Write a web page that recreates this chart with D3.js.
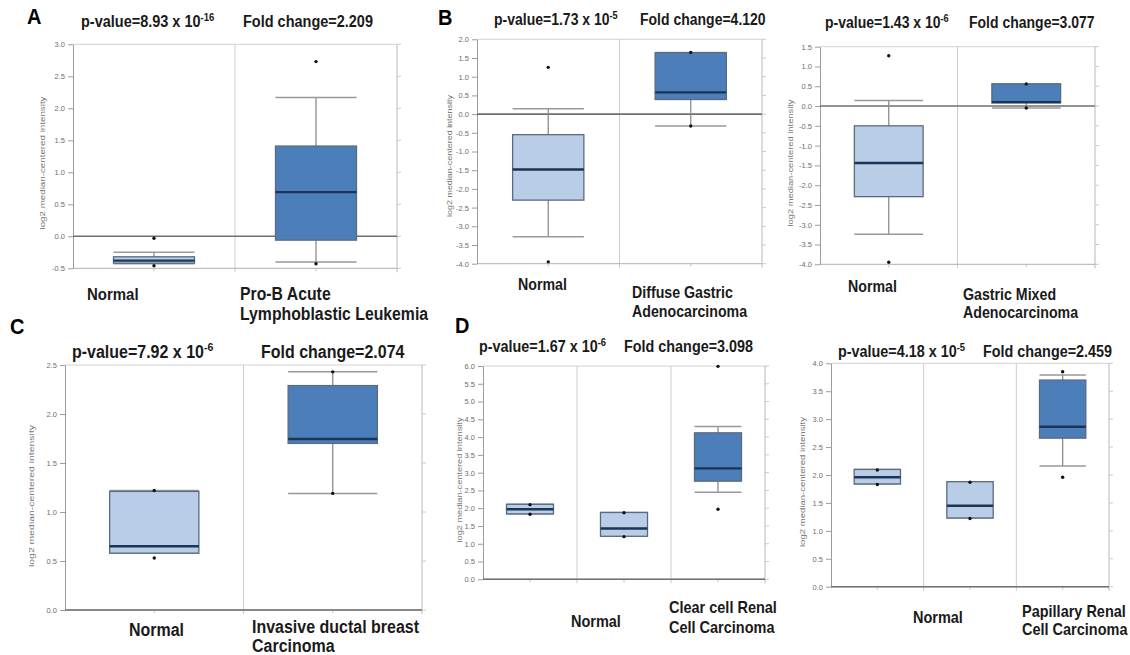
<!DOCTYPE html>
<html>
<head>
<meta charset="utf-8">
<script src="https://cdn.jsdelivr.net/npm/d3@7"></script>
<style>
  html, body { margin: 0; padding: 0; background: #fff; }
  svg { display: block; }
  text { font-family: "Liberation Sans", Arial, sans-serif; }
</style>
</head>
<body>
<svg id="fig" width="1130" height="655"></svg>
<script>
// Box statistics per group: [lower whisker, Q1, median, Q3, upper whisker]

// A: Pro-B acute lymphoblastic leukemia
const aGroups = ["Normal", "Pro-B Acute Lymphoblastic Leukemia"];
const aStats = [[-0.43, -0.42, -0.38, -0.32, -0.25], [-0.40, -0.06, 0.69, 1.41, 2.17]];
const aOutliers = [[-0.03, -0.46], [2.73, -0.43]];
const aTicks = [-0.5, 0.0, 0.5, 1.0, 1.5, 2.0, 2.5, 3.0];

// B (left): diffuse gastric adenocarcinoma
const b1Groups = ["Normal", "Diffuse Gastric Adenocarcinoma"];
const b1Stats = [[-3.28, -2.30, -1.48, -0.55, 0.14], [-0.32, 0.39, 0.58, 1.64, 1.65]];
const b1Outliers = [[1.25, -3.95], [1.65, -0.32]];
const b1Ticks = [-4.0, -3.5, -3.0, -2.5, -2.0, -1.5, -1.0, -0.5, 0.0, 0.5, 1.0, 1.5, 2.0];

// B (right): gastric mixed adenocarcinoma
const b2Groups = ["Normal", "Gastric Mixed Adenocarcinoma"];
const b2Stats = [[-3.24, -2.29, -1.44, -0.50, 0.14], [-0.05, 0.08, 0.10, 0.56, 0.56]];
const b2Outliers = [[1.27, -3.95], [0.56, -0.05]];
const b2Ticks = [-4.0, -3.5, -3.0, -2.5, -2.0, -1.5, -1.0, -0.5, 0.0, 0.5, 1.0, 1.5];

// C: invasive ductal breast carcinoma
const cGroups = ["Normal", "Invasive ductal breast Carcinoma"];
const cStats = [[0.58, 0.58, 0.65, 1.21, 1.22], [1.19, 1.70, 1.745, 2.29, 2.43]];
const cOutliers = [[1.22, 0.53], [2.43, 1.19]];
const cTicks = [0.0, 0.5, 1.0, 1.5, 2.0, 2.5];

// D (left): clear cell renal cell carcinoma
const d1Groups = ["Normal 1", "Normal 2", "Clear cell Renal Cell Carcinoma"];
const d1Stats = [[1.84, 1.84, 1.97, 2.11, 2.11], [1.21, 1.21, 1.43, 1.88, 1.88], [2.45, 2.76, 3.12, 4.12, 4.30]];
const d1Outliers = [[2.10, 1.83], [1.87, 1.20], [5.99, 1.97]];
const d1Ticks = [0.0, 0.5, 1.0, 1.5, 2.0, 2.5, 3.0, 3.5, 4.0, 4.5, 5.0, 5.5, 6.0];

// D (right): papillary renal cell carcinoma
const d2Groups = ["Normal 1", "Normal 2", "Papillary Renal Cell Carcinoma"];
const d2Stats = [[1.84, 1.84, 1.96, 2.10, 2.10], [1.23, 1.23, 1.45, 1.88, 1.88], [2.16, 2.66, 2.865, 3.70, 3.79]];
const d2Outliers = [[2.09, 1.83], [1.87, 1.22], [3.85, 1.96]];
const d2Ticks = [0.0, 0.5, 1.0, 1.5, 2.0, 2.5, 3.0, 3.5, 4.0];

// Significance annotations: [p-value mantissa, exponent, fold change]
const aSig = ["8.93", "-16", "2.209"];
const b1Sig = ["1.73", "-5", "4.120"];
const b2Sig = ["1.43", "-6", "3.077"];
const cSig = ["7.92", "-6", "2.074"];
const d1Sig = ["1.67", "-6", "3.098"];
const d2Sig = ["4.18", "-5", "2.459"];

// Category captions printed under each plot (lines)
const aCaptions = [["Normal"], ["Pro-B Acute", "Lymphoblastic Leukemia"]];
const b1Captions = [["Normal"], ["Diffuse Gastric", "Adenocarcinoma"]];
const b2Captions = [["Normal"], ["Gastric Mixed", "Adenocarcinoma"]];
const cCaptions = [["Normal"], ["Invasive ductal breast", "Carcinoma"]];
const d1Captions = [["Normal"], ["Clear cell Renal", "Cell Carcinoma"]];
const d2Captions = [["Normal"], ["Papillary Renal", "Cell Carcinoma"]];

const axisTitle = "log2 median-centered intensity";

// ---- layout ----
const panels = [
  { letter: "A", letterPos: [27, 24], groups: aGroups, stats: aStats, outliers: aOutliers, ticks: aTicks, sig: aSig, captions: aCaptions,
    left: 73, right: 397, top: 44.3, bottom: 268.3, yTitle: [45, 163, 133],
    sigPos: [81, 243, 27, 14.5], capPos: [[87, 300], [240, 300]], capFs: [15, 15.8], capLead: 20 },
  { letter: "B", letterPos: [438, 25], groups: b1Groups, stats: b1Stats, outliers: b1Outliers, ticks: b1Ticks, sig: b1Sig, captions: b1Captions,
    left: 477, right: 762, top: 39.3, bottom: 263.7, yTitle: [452, 156, 122],
    sigPos: [494, 640, 25, 14], capPos: [[518, 290], [632, 298]], capFs: [14.2, 14.2], capLead: 19 },
  { letter: null, groups: b2Groups, stats: b2Stats, outliers: b2Outliers, ticks: b2Ticks, sig: b2Sig, captions: b2Captions,
    left: 820, right: 1095, top: 46.7, bottom: 264.3, yTitle: [793, 163, 127],
    sigPos: [825, 969, 28, 14], capPos: [[848, 292], [963, 300]], capFs: [14.2, 14.2], capLead: 18 },
  { letter: "C", letterPos: [10, 334], groups: cGroups, stats: cStats, outliers: cOutliers, ticks: cTicks, sig: cSig, captions: cCaptions,
    left: 65, right: 422, top: 365, bottom: 610, yTitle: [34, 496, 142],
    sigPos: [72, 261, 358, 16], capPos: [[129, 636], [252, 633]], capFs: [16, 16], capLead: 19 },
  { letter: "D", letterPos: [455, 333], groups: d1Groups, stats: d1Stats, outliers: d1Outliers, ticks: d1Ticks, sig: d1Sig, captions: d1Captions,
    left: 483, right: 765, top: 366, bottom: 579.3, yTitle: [462, 480, 125],
    sigPos: [479, 624, 352, 14.4], capPos: [[571, 627], [669, 613]], capFs: [14.5, 14.5], capLead: 20 },
  { letter: null, groups: d2Groups, stats: d2Stats, outliers: d2Outliers, ticks: d2Ticks, sig: d2Sig, captions: d2Captions,
    left: 831, right: 1109, top: 363.3, bottom: 586.7, yTitle: [805, 482, 130],
    sigPos: [838, 983, 357, 14.4], capPos: [[913, 623], [1022, 617]], capFs: [14.5, 14.5], capLead: 18 }
];

const NORMAL_FILL = "#b9cde6";
const TUMOR_FILL = "#4c7fba";
const BOX_STROKE = "#586b82";
const MEDIAN = "#1a3657";
const STRETCH = 1.12; // labels in this figure are set slightly tall

const svg = d3.select("#fig");

function boldText(x, y, str, fs) {
  return svg.append("text")
    .attr("transform", `translate(${x},${y}) scale(1,${STRETCH})`)
    .attr("font-size", fs)
    .attr("font-weight", "bold")
    .attr("fill", "#1a1a1a")
    .text(str);
}

function drawPanel(p) {
  const lo = d3.min(p.ticks), hi = d3.max(p.ticks);
  const y = d3.scaleLinear().domain([lo, hi]).range([p.bottom, p.top]);
  const x = d3.scaleBand().domain(d3.range(p.groups.length)).range([p.left, p.right]);
  const bw = x.bandwidth() * 0.5;
  const g = svg.append("g");

  // frame: top and right borders, column dividers, bottom line
  g.append("line").attr("x1", p.left).attr("x2", p.right).attr("y1", p.top).attr("y2", p.top)
    .attr("stroke", "#d2d2d2").attr("stroke-width", 1);
  g.append("line").attr("x1", p.right).attr("x2", p.right).attr("y1", p.top).attr("y2", p.bottom + 4)
    .attr("stroke", "#b8b8b8").attr("stroke-width", 1);
  g.selectAll(".div").data(d3.range(1, p.groups.length)).join("line")
    .attr("x1", i => x(i)).attr("x2", i => x(i)).attr("y1", p.top).attr("y2", p.bottom + 4)
    .attr("stroke", "#cdcdcd").attr("stroke-width", 1);
  g.append("line").attr("x1", p.left).attr("x2", p.right).attr("y1", p.bottom).attr("y2", p.bottom)
    .attr("stroke", "#b0b0b0").attr("stroke-width", 1);

  // right-hand tick marks
  g.selectAll(".rt").data(p.ticks).join("line")
    .attr("x1", p.right).attr("x2", p.right + 4).attr("y1", d => y(d)).attr("y2", d => y(d))
    .attr("stroke", "#cacaca").attr("stroke-width", 1);
  // category tick marks under each column
  g.selectAll(".bt").data(d3.range(p.groups.length)).join("line")
    .attr("x1", i => x(i) + x.bandwidth() / 2).attr("x2", i => x(i) + x.bandwidth() / 2)
    .attr("y1", p.bottom).attr("y2", p.bottom + 3)
    .attr("stroke", "#c4c4c4").attr("stroke-width", 1);

  // left value axis
  const ax = g.append("g").attr("transform", `translate(${p.left},0)`)
    .call(d3.axisLeft(y).tickValues(p.ticks).tickSize(5).tickSizeOuter(0).tickPadding(3)
      .tickFormat(d => d.toFixed(1)));
  ax.select(".domain").attr("stroke", "#9c9c9c");
  ax.selectAll(".tick line").attr("stroke", "#9c9c9c");
  ax.selectAll(".tick text").attr("fill", "#6e6e6e").attr("font-size", 7.5)
    .attr("font-family", "'Liberation Sans', Arial, sans-serif");

  // zero reference line
  g.append("line").attr("x1", p.left).attr("x2", p.right).attr("y1", y(0)).attr("y2", y(0))
    .attr("stroke", "#6f6f6f").attr("stroke-width", 1.6);

  // boxes
  const last = p.groups.length - 1;
  p.stats.forEach((s, i) => {
    const cx = x(i) + x.bandwidth() / 2;
    const [wl, q1, md, q3, wh] = s;
    g.append("line").attr("x1", cx).attr("x2", cx).attr("y1", y(wl)).attr("y2", y(wh))
      .attr("stroke", "#8c8c8c").attr("stroke-width", 1.3);
    [wl, wh].forEach(v => {
      g.append("line").attr("x1", cx - bw / 2).attr("x2", cx + bw / 2).attr("y1", y(v)).attr("y2", y(v))
        .attr("stroke", "#999").attr("stroke-width", 1.5);
    });
    g.append("rect").attr("x", cx - bw / 2).attr("y", y(q3)).attr("width", bw)
      .attr("height", Math.max(0.5, y(q1) - y(q3)))
      .attr("fill", i === last ? TUMOR_FILL : NORMAL_FILL)
      .attr("stroke", BOX_STROKE).attr("stroke-width", 1.3);
    g.append("line").attr("x1", cx - bw / 2).attr("x2", cx + bw / 2).attr("y1", y(md)).attr("y2", y(md))
      .attr("stroke", MEDIAN).attr("stroke-width", 2.4);
    g.selectAll(null).data(p.outliers[i]).join("circle")
      .attr("cx", cx).attr("cy", d => y(d)).attr("r", 1.7).attr("fill", "#111");
  });

  // rotated value-axis title
  const [tx, ty, tl] = p.yTitle;
  g.append("text").attr("transform", `translate(${tx},${ty}) rotate(-90)`)
    .attr("text-anchor", "middle").attr("font-size", 6.5).attr("fill", "#777")
    .attr("textLength", tl).attr("lengthAdjust", "spacingAndGlyphs")
    .text(axisTitle);

  // p-value and fold change
  const [px, fx, sy, fs] = p.sigPos;
  const t = boldText(px, sy, "", fs);
  t.append("tspan").text(`p-value=${p.sig[0]} x 10`);
  t.append("tspan").attr("dy", -fs * 0.4).attr("font-size", fs * 0.66).text(p.sig[1]);
  boldText(fx, sy, `Fold change=${p.sig[2]}`, fs);

  // category captions
  p.captions.forEach((lines, k) => {
    const [cx0, cy0] = p.capPos[k];
    lines.forEach((ln, j) => boldText(cx0, cy0 + j * p.capLead, ln, p.capFs[k]));
  });

  if (p.letter) boldText(p.letterPos[0], p.letterPos[1], p.letter, 20).attr("fill", "#000");
}

panels.forEach(drawPanel);
</script>
</body>
</html>
